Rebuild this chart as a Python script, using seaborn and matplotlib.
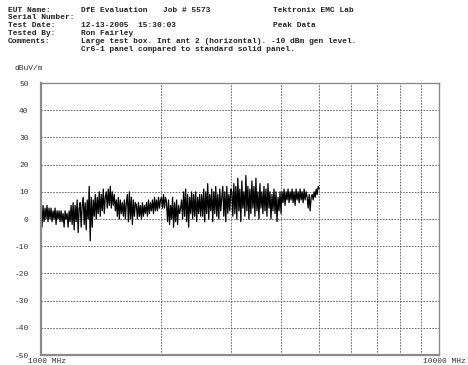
import numpy as np
import matplotlib
matplotlib.use("Agg")
import matplotlib.pyplot as plt
import matplotlib.transforms as mtransforms
import seaborn as sns

# sweep 1000 -> 5000 MHz, peak levels in dBuV/m
f_start = 1000
f_stop = 5000
level = [
    6, -3, 5, -1, 4, 0, 5, -1, 4, 0, 4, -1, 3, 0, 4, -2, 3, 0, 3, -1,
    3, -1, 2, -3, 3, 0, 2, -3, 3, -1,
    5, -2, 6, -4, 5, -1, 7, -5, 4, 6, -3, 5, 8, -2, 6, -4, 7, 0,
    12, -8, 8, -3,
    7, 1, 9, 0, 8, 2, 10, 1, 9, 3, 11, 2, 8,
    10, 4, 11, 5, 12, 4, 10, 5, 9, 3,
    7, 1, 8, 0, 7, 2, 6, 1, 7, 0,
    6, 9, -1, 10, 0, 8, -2, 7, 1, 6,
    5, 0, 6, 1, 5, 0, 6, 1, 5, 2, 6, 1, 7, 2, 6, 3, 7, 2, 8, 3, 7, 3, 8, 4, 7,
    8, 4, 9, 4, 8,
    6, -1, 7, -2, 5, 0, 8, -3, 6, -1, 7, -2, 5, 2, 4,
    7, 0, 10, 1, 11, -1, 9, -3, 8, 2, 10, 0, 9, 1, 10, -1, 8, 2, 9, 1,
    9, 1, 11, -1, 10, 2, 13, 0, 9, 3, 11, -1, 10, 2, 12, 1, 9, 0, 11, 3,
    8, 12, 1, 10, -1, 12, 2, 9, 3, 11,
    10, 1, 13, 2, 12, 0, 15, 3, 11, -1, 14, 4, 10, 1, 16, 3, 12, 0, 11, 2,
    14, 4, 12, 1, 15, 3, 10, 0, 13, 4,
    10, 2, 12, 3, 11, 1, 13, 4, 10, 0, 9, 3, 11, 2, 10, -1, 8, 3, 10, 2,
    10, 6, 11, 5, 10, 7, 11, 6, 10, 7, 11, 6, 10, 5, 11, 7, 10, 6, 11, 7, 10, 6, 11, 7, 10,
    8, 4, 9, 3, 8,
    9, 7, 10, 8, 11, 9, 12, 11,
]
freq = np.geomspace(f_start, f_stop, len(level))

y_ticks = [50, 40, 30, 20, 10, 0, -10, -20, -30, -40, -50]
x_grid = [2000, 3000, 4000, 5000, 6000, 7000, 8000, 9000]
x_labels = ["1000 MHz", "10000 MHz"]

header_left = ["EUT Name:", "Serial Number:", "Test Date:", "Tested By:", "Comments:", ""]
header_mid = ["DfE Evaluation", "", "12-13-2005  15:30:03", "Ron Fairley",
              "Large test box. Int ant 2 (horizontal). -10 dBm gen level.",
              "Cr6-1 panel compared to standard solid panel."]

sns.set_style("white")
mono = "Liberation Mono"
fs = 5.7

fig = plt.figure(figsize=(4.68, 3.65), dpi=100)
ax = fig.add_axes([41 / 468, 1 - 355 / 365, 398 / 468, 272 / 365])

sns.lineplot(x=freq, y=level, ax=ax, color="black", lw=0.9, sort=False)

ax.set_xscale("log")
ax.set_xlim(1000, 10000)
ax.set_ylim(-50, 50)

ax.set_yticks(y_ticks)
ax.set_yticklabels([str(v) for v in y_ticks], family=mono, fontsize=fs, color="#333")
ax.set_xticks([1000, 10000])
ax.set_xticklabels(x_labels, family=mono, fontsize=fs, color="#333")
ax.xaxis.set_minor_locator(matplotlib.ticker.NullLocator())
ax.tick_params(axis="y", length=0, pad=9)
ax.tick_params(axis="x", length=0, pad=2.5)
shift = mtransforms.ScaledTranslation(5.5 / 100, 0, fig.dpi_scale_trans)
for lab in ax.get_xticklabels():
    lab.set_transform(lab.get_transform() + shift)
ax.set_xlabel("")
ax.set_ylabel("")

for v in y_ticks[1:-1]:
    ax.axhline(v, color="#555", lw=0.6, ls=(0, (2, 1.5)), zorder=0)
for v in x_grid:
    ax.axvline(v, color="#555", lw=0.6, ls=(0, (2, 1.5)), zorder=0)

for side in ["left", "bottom"]:
    ax.spines[side].set_color("#8a8a8a")
    ax.spines[side].set_linewidth(1.6)
for side in ["top", "right"]:
    ax.spines[side].set_color("#8a8a8a")
    ax.spines[side].set_linewidth(1.0)

row_y = [10.7, 17.9, 25.7, 33.5, 41.5, 49.2]
hdr = dict(family=mono, fontsize=fs, va="center", color="#222", fontweight="bold")
for i in range(6):
    y = 1 - row_y[i] / 365
    fig.text(8 / 468, y, header_left[i], **hdr)
    fig.text(81 / 468, y, header_mid[i], **hdr)
fig.text(163 / 468, 1 - row_y[0] / 365, "Job # 5573", **hdr)
fig.text(273 / 468, 1 - row_y[0] / 365, "Tektronix EMC Lab", **hdr)
fig.text(273 / 468, 1 - row_y[2] / 365, "Peak Data", **hdr)
fig.text(15 / 468, 1 - 68 / 365, "dBuV/m", family=mono, fontsize=fs, va="center", color="#333")

fig.savefig("out.png", dpi=100)
